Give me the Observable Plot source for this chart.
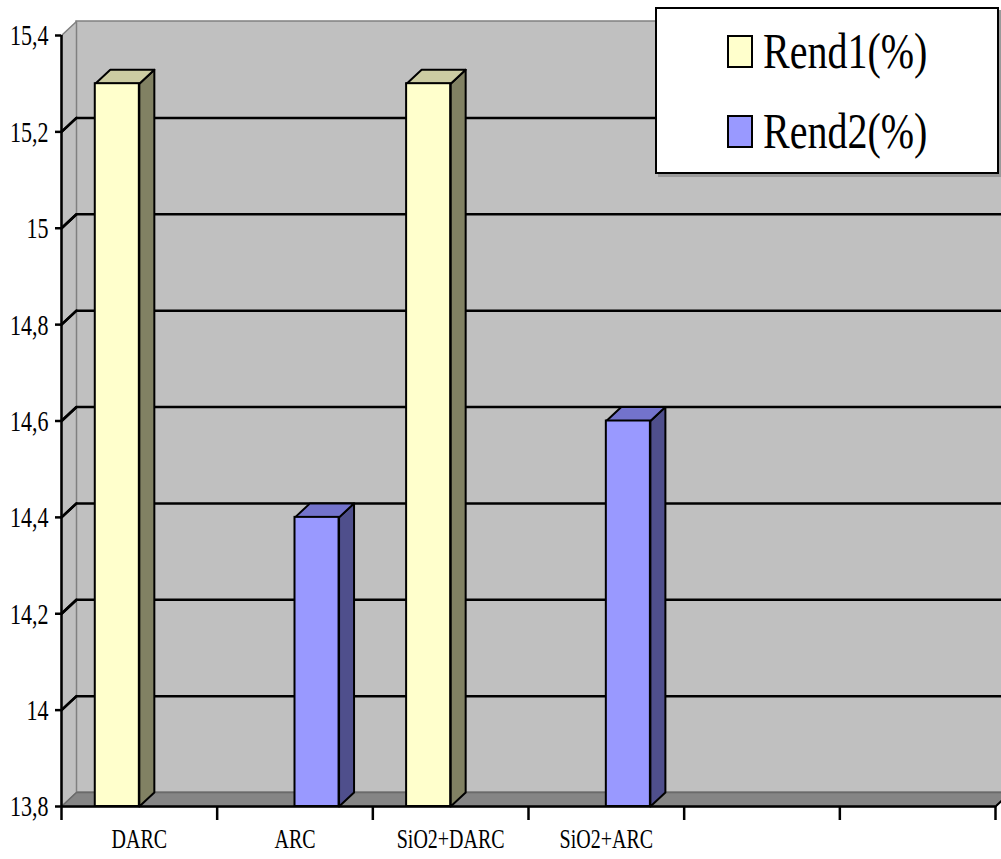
<!DOCTYPE html>
<html>
<head>
<meta charset="utf-8">
<script src="https://cdn.jsdelivr.net/npm/d3@7"></script>
<script src="https://cdn.jsdelivr.net/npm/@observablehq/plot@0.6"></script>
<style>
  html, body { margin: 0; padding: 0; background: #fff; overflow: hidden; }
  #wrap { position: relative; width: 1001px; height: 859px; overflow: hidden; }
  #legend { position: absolute; left: 655px; top: 7px; width: 340px; height: 163px;
    background: #fff; border: 2px solid #000; box-shadow: 3px 3px 0 #9a9a9a;
    font-family: "Liberation Serif", "Times New Roman", serif; }
  .sw { position: absolute; width: 22px; height: 29px; border: 2px solid #000; }
  .lt { position: absolute; font-size: 40px; line-height: 40px; color: #000;
    transform: scaleY(1.28); transform-origin: left center; white-space: nowrap; }
</style>
</head>
<body>
<div id="wrap"><div id="chart"></div><div id="legend"></div></div>
<script>
// ---- data ----
const categories = ["DARC", "ARC", "SiO2+DARC", "SiO2+ARC", "", ""];
const series = ["Rend1(%)", "Rend2(%)"];
const rend1 = [15.3, null, 15.3, null, null, null];
const rend2 = [null, 14.4, null, 14.6, null, null];
const yTicks = [13.8, 14, 14.2, 14.4, 14.6, 14.8, 15, 15.2, 15.4];
const yTickLabels = ["13,8", "14", "14,2", "14,4", "14,6", "14,8", "15", "15,2", "15,4"];

// ---- styles ----
const frontColors = ["#ffffcc", "#9999ff"];
const topColors = ["#cccca2", "#7373cc"];
const sideColors = ["#818163", "#4f4f8c"];
const font = "Liberation Serif, Times New Roman, serif";

// ---- geometry ----
const W = 1001, H = 859, mL = 61, mR = 6, mT = 35, mB = 53;
const yMin = yTicks[0], yMax = yTicks[yTicks.length - 1], nCat = categories.length;
const pxX = (W - mL - mR) / nCat, pxY = (H - mT - mB) / (yMax - yMin);
const DX = 15 / pxX, DY = 14 / pxY;            // depth of the 3D box in data units
const xTickLen = 14 / pxY, yTickLen = 6 / pxX;
const pad = 0.217, bw = (1 - 2 * pad) / 2;

const values = [rend1, rend2];
const rows = [];
series.forEach((s, k) => values[k].forEach((v, i) => {
  if (v != null) rows.push({i, k, v, x1: i + pad + k * bw, x2: i + pad + (k + 1) * bw});
}));

const poly = (id, pts, close = true) =>
  (close ? [...pts, pts[0]] : pts).map(([x, y]) => ({id, x, y}));

const leftWall = poly("lw", [[0, yMin], [0, yMax], [DX, yMax + DY], [DX, yMin + DY]]);
const floor = poly("fl", [[0, yMin], [nCat, yMin], [nCat + DX, yMin + DY], [DX, yMin + DY]]);
const grid = yTicks.filter(t => t > yMin && t < yMax)
  .flatMap(t => poly("g" + t, [[0, t], [DX, t + DY], [nCat + DX, t + DY]], false));
const floorRight = poly("fr", [[nCat, yMin], [nCat + DX, yMin + DY]], false);

const marks = [
  Plot.rect([0], {x1: DX, x2: nCat + DX, y1: yMin + DY, y2: yMax + DY, fill: "#c0c0c0", stroke: "#808080", strokeWidth: 1.5}),
  Plot.line(leftWall, {x: "x", y: "y", z: "id", fill: "#c0c0c0", stroke: "#808080", strokeWidth: 1.5}),
  Plot.line(floor, {x: "x", y: "y", z: "id", fill: "#858585", stroke: "#6a6a6a", strokeWidth: 1.5}),
  Plot.line(grid, {x: "x", y: "y", z: "id", stroke: "#000", strokeWidth: 2.5})
];

series.forEach((s, k) => {
  const rs = rows.filter(r => r.k === k);
  const tops = rs.flatMap((r, j) => poly("t" + j, [[r.x1, r.v], [r.x2, r.v], [r.x2 + DX, r.v + DY], [r.x1 + DX, r.v + DY]]));
  const sides = rs.flatMap((r, j) => poly("s" + j, [[r.x2, yMin], [r.x2, r.v], [r.x2 + DX, r.v + DY], [r.x2 + DX, yMin + DY]]));
  marks.push(
    Plot.line(sides, {x: "x", y: "y", z: "id", fill: sideColors[k], stroke: "#000", strokeWidth: 2, strokeLinejoin: "round"}),
    Plot.line(tops, {x: "x", y: "y", z: "id", fill: topColors[k], stroke: "#000", strokeWidth: 2, strokeLinejoin: "round"}),
    Plot.rect(rs, {x1: "x1", x2: "x2", y1: yMin, y2: "v", fill: frontColors[k], stroke: "#000", strokeWidth: 2})
  );
});

marks.push(
  // front x-axis line and floor right edge
  Plot.ruleY([yMin], {x1: 0, x2: nCat, stroke: "#000", strokeWidth: 2.5}),
  Plot.line(floorRight, {x: "x", y: "y", stroke: "#000", strokeWidth: 2}),
  // category tick marks
  Plot.ruleX(d3.range(nCat + 1), {x: d => d, y1: yMin - xTickLen, y2: yMin, stroke: "#000", strokeWidth: 2.5}),
  // y axis line
  Plot.ruleX([0], {y1: yMin, y2: yMax, stroke: "#000", strokeWidth: 2.5}),
  // y ticks
  Plot.ruleY(yTicks, {y: d => d, x1: -yTickLen, x2: 0, stroke: "#000", strokeWidth: 2.5}),
  // left-wall diagonals
  Plot.line(yTicks.filter(t => t > yMin && t < yMax).flatMap(t => poly("d" + t, [[0, t], [DX, t + DY]], false)),
    {x: "x", y: "y", z: "id", stroke: "#000", strokeWidth: 2.5}),
  Plot.text(yTicks, {x: 0, y: d => d, text: (d, i) => yTickLabels[i], dx: -13, textAnchor: "end",
    fontSize: 22, fontFamily: font, fill: "#000", className: "stretch"}),
  Plot.text(categories.map((c, i) => ({c, i})), {x: d => d.i + 0.5, y: yMin, text: "c", dy: 32,
    fontSize: 20, fontFamily: font, fill: "#000", className: "stretch"})
);

const chart = Plot.plot({
  width: W, height: H,
  marginLeft: mL, marginRight: mR, marginTop: mT, marginBottom: mB,
  x: {domain: [0, nCat], axis: null},
  y: {domain: [yMin, yMax], axis: null},
  style: {background: "transparent", overflow: "visible"},
  marks
});
document.getElementById("chart").appendChild(chart);

// stretch text vertically like the reference's anamorphic export
chart.querySelectorAll(".stretch text").forEach(el => {
  const b = el.getBBox();
  const cx = b.x + b.width / 2, cy = b.y + b.height / 2;
  const prev = el.getAttribute("transform") || "";
  el.setAttribute("transform", `${prev} translate(${cx},${cy}) scale(1,1.38) translate(${-cx},${-cy})`);
});

// ---- legend ----
const legend = document.getElementById("legend");
series.forEach((s, k) => {
  const sw = document.createElement("div");
  sw.className = "sw";
  sw.style.left = "70px";
  sw.style.top = (26 + 80 * k) + "px";
  sw.style.background = frontColors[k];
  legend.appendChild(sw);
  const t = document.createElement("div");
  t.className = "lt";
  t.style.left = "106px";
  t.style.top = (22 + 80 * k) + "px";
  t.textContent = s;
  legend.appendChild(t);
});
</script>
</body>
</html>
